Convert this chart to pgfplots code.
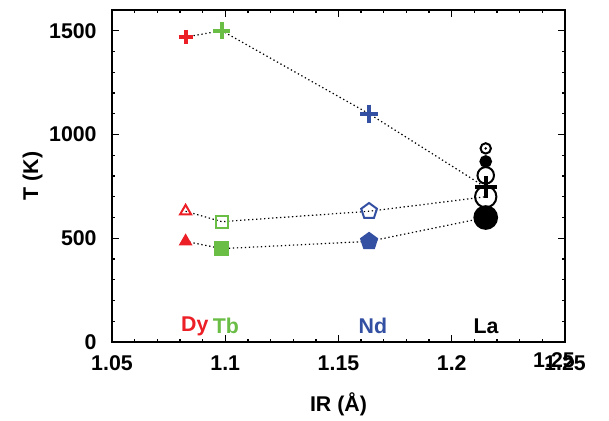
\documentclass[border=0pt]{standalone}
\usepackage{fontspec}
\setmainfont{Liberation Sans}
\usepackage{pgfplots}
\pgfplotsset{compat=1.18}
\definecolor{dyred}{RGB}{236,30,38}
\definecolor{tbgreen}{RGB}{106,189,69}
\definecolor{ndblue}{RGB}{52,80,162}
\begin{document}
\begin{tikzpicture}
\begin{axis}[
  scale only axis,
  width=339.75pt, height=249pt,
  xmin=1.05, xmax=1.25, ymin=0, ymax=1600,
  xtick={1.05,1.1,1.15,1.2,1.25},
  xticklabels={1.05,1.1,1.15,1.2,1.25},
  minor x tick num=4,
  ytick={0,500,1000,1500},
  minor y tick num=4,
  tick align=inside,
  major tick length=5pt, minor tick length=2.5pt,
  tick style={line width=1pt, black},
  axis line style={line width=1.3pt},
  font=\fontsize{16}{18}\selectfont\bfseries,
  /pgf/number format/assume math mode=true,
  /pgf/number format/1000 sep={},
  xticklabel style={yshift=-7pt},
  yticklabel style={xshift=-8pt},
  xlabel={IR (Å)},
  ylabel={T (K)},
  xlabel style={yshift=-9pt},
  ylabel style={yshift=-2pt},
  clip=false,
  every axis plot/.append style={line width=1.5pt},
]
% dotted connecting lines
\addplot[black, line width=0.9pt, dash pattern=on 1pt off 2pt] coordinates {
  (1.0825,1470) (1.0985,1500) (1.1635,1100) (1.215,745)};
\addplot[black, line width=0.9pt, dash pattern=on 1pt off 2pt] coordinates {
  (1.0825,630) (1.0985,580) (1.1635,630) (1.215,700)};
\addplot[black, line width=0.9pt, dash pattern=on 1pt off 2pt] coordinates {
  (1.0825,485) (1.0985,450) (1.1635,485) (1.215,600)};

% Dy
\addplot[dyred, only marks, mark=+, mark size=5.3pt, line width=3pt] coordinates {(1.0825,1470)};
\addplot[dyred, only marks, mark=triangle, mark size=4.8pt] coordinates {(1.0825,630)};
\addplot[dyred, only marks, mark=triangle*, mark size=4.5pt] coordinates {(1.0825,485)};
% Tb
\addplot[tbgreen, only marks, mark=+, mark size=6.3pt, line width=3pt] coordinates {(1.0985,1500)};
\addplot[tbgreen, only marks, mark=square, mark size=4.6pt] coordinates {(1.0985,580)};
\addplot[tbgreen, only marks, mark=square*, mark size=4.8pt] coordinates {(1.0985,450)};
% Nd
\addplot[ndblue, only marks, mark=+, mark size=6.8pt, line width=3pt] coordinates {(1.1635,1100)};
\addplot[ndblue, only marks, mark=pentagon, mark size=6.2pt] coordinates {(1.1635,630)};
\addplot[ndblue, only marks, mark=pentagon*, mark size=6.3pt] coordinates {(1.1635,485)};
% La
\addplot[black, only marks, mark=*, mark size=8.5pt] coordinates {(1.215,600)};
\addplot[black, only marks, mark=o, mark size=8pt, mark options={fill=white}] coordinates {(1.215,700)};
\addplot[black, only marks, mark=o, mark size=6.2pt, mark options={fill=white}] coordinates {(1.215,803)};
\addplot[black, only marks, mark=*, mark size=4pt] coordinates {(1.215,870)};
\addplot[black, only marks, mark=o, mark size=3.9pt] coordinates {(1.215,933)};
\addplot[black, only marks, mark=*, mark size=0.8pt, line width=0.3pt] coordinates {(1.215,933)};
\addplot[black, only marks, mark=+, mark size=8.2pt, line width=3pt] coordinates {(1.215,745)};

% element labels
\node[dyred] at (axis cs:1.0866,77) {Dy};
\node[tbgreen] at (axis cs:1.1003,77) {Tb};
\node[ndblue] at (axis cs:1.1652,77) {Nd};
\node[black] at (axis cs:1.2151,77) {La};
% duplicated tick label of the original
\node at (rel axis cs:0.9757,0) [yshift=-13.5pt] {1.25};
% page extent
\path (rel axis cs:-0.2472,-0.2319) rectangle (rel axis cs:1.0971,1.0301);
\end{axis}
\end{tikzpicture}
\end{document}
